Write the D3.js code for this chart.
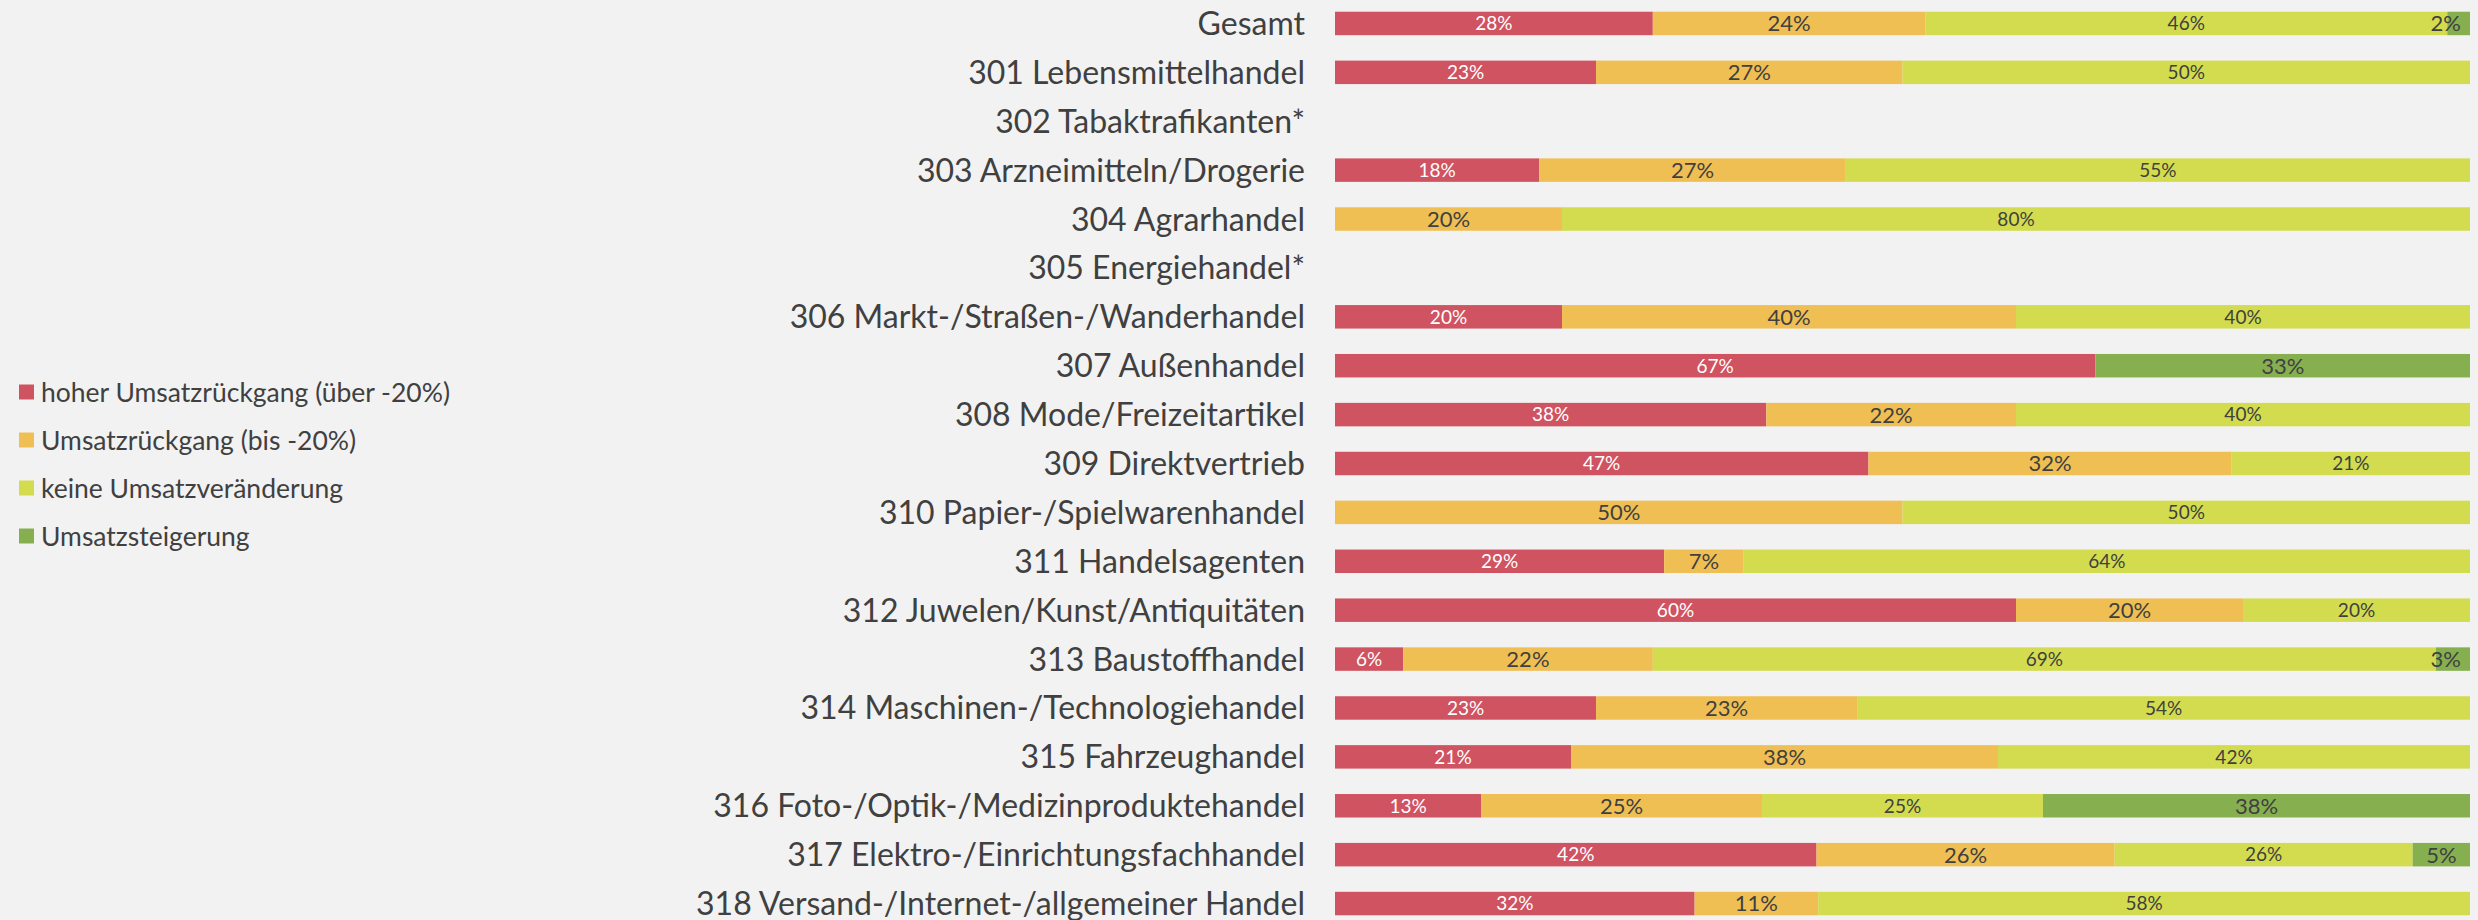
<!DOCTYPE html>
<html lang="en">
<meta charset="utf-8">
<style>
  body { margin: 0; background: #f2f2f2; }
  text { font-family: Lato, "Open Sans", sans-serif; }
</style>
<body>
<div id="my_dataviz"></div>

<script src="https://d3js.org/d3.v7.min.js"></script>

<script type="text/javascript">

// categories (top to bottom)
var branches = ["Gesamt", "301 Lebensmittelhandel", "302 Tabaktrafikanten*",
  "303 Arzneimitteln/Drogerie", "304 Agrarhandel", "305 Energiehandel*",
  "306 Markt-/Straßen-/Wanderhandel", "307 Außenhandel", "308 Mode/Freizeitartikel",
  "309 Direktvertrieb", "310 Papier-/Spielwarenhandel", "311 Handelsagenten",
  "312 Juwelen/Kunst/Antiquitäten", "313 Baustoffhandel", "314 Maschinen-/Technologiehandel",
  "315 Fahrzeughandel", "316 Foto-/Optik-/Medizinproduktehandel",
  "317 Elektro-/Einrichtungsfachhandel", "318 Versand-/Internet-/allgemeiner Handel"]

var seriesNames = ["hoher Umsatzrückgang (über -20%)", "Umsatzrückgang (bis -20%)",
  "keine Umsatzveränderung", "Umsatzsteigerung"]

// shares in percent, one array per series (0 = no answer, null = no data)
var hoherRueckgang = [28, 23, null, 18, 0, null, 20, 67, 38, 47, 0, 29, 60, 6, 23, 21, 13, 42, 32]
var rueckgang      = [24, 27, null, 27, 20, null, 40, 0, 22, 32, 50, 7, 20, 22, 23, 38, 25, 26, 11]
var keineAenderung = [46, 50, null, 55, 80, null, 40, 0, 40, 21, 50, 64, 20, 69, 54, 42, 25, 26, 58]
var steigerung     = [2, 0, null, 0, 0, null, 0, 33, 0, 0, 0, 0, 0, 3, 0, 0, 38, 5, 0]

var colors = ["#cf5361", "#f0bf53", "#d3dc4e", "#86af50"]
var labelColors = ["#ffffff", "#404040", "#404040", "#404040"]
var labelSizes = [19, 22, 19, 22]

var width = 2478, height = 920

var svg = d3.select("#my_dataviz")
  .append("svg")
    .attr("width", width)
    .attr("height", height)

// build rows for the stack
var rows = branches.map(function(b, i) {
  return {branch: b, s0: hoherRueckgang[i] || 0, s1: rueckgang[i] || 0,
          s2: keineAenderung[i] || 0, s3: steigerung[i] || 0,
          empty: hoherRueckgang[i] === null}
})
var keys = ["s0", "s1", "s2", "s3"]

var stacked = d3.stack().keys(keys).offset(d3.stackOffsetExpand)(rows)

var x = d3.scaleLinear()
  .domain([0, 1])
  .range([1335, 2470])

var y = d3.scaleBand()
  .domain(branches)
  .range([-1, 928])
  .paddingInner(0.52)
  .paddingOuter(0.26)

// category labels
svg.append("g")
  .selectAll("text")
  .data(branches)
  .enter()
  .append("text")
    .attr("x", 1305)
    .attr("y", function(d) { return y(d) + y.bandwidth() / 2 })
    .attr("dy", "0.36em")
    .attr("text-anchor", "end")
    .style("font-size", "32px")
    .style("fill", "#404040")
    .text(function(d) { return d })

// bars
var layer = svg.append("g")
  .selectAll("g")
  .data(stacked)
  .enter()
  .append("g")

layer.selectAll("rect")
  .data(function(d) { return d.filter(function(p) { return !p.data.empty && p[1] > p[0] }) })
  .enter()
  .append("rect")
    .attr("x", function(d) { return x(d[0]) })
    .attr("y", function(d) { return y(d.data.branch) })
    .attr("width", function(d) { return x(d[1]) - x(d[0]) })
    .attr("height", y.bandwidth())
    .style("fill", function(d) { return colors[keys.indexOf(this.parentNode.__data__.key)] })

// labels inside the bars (kept inside the right end of the bar)
layer.each(function(s, k) {
  d3.select(this).selectAll("text")
    .data(s.filter(function(p) { return !p.data.empty && p[1] > p[0] }))
    .enter()
    .append("text")
      .attr("y", function(d) { return y(d.data.branch) + y.bandwidth() / 2 })
      .attr("dy", "0.36em")
      .attr("text-anchor", "middle")
      .style("font-size", labelSizes[k] + "px")
      .style("fill", labelColors[k])
      .text(function(d) { return d.data[s.key] + "%" })
      .attr("x", function(d) {
        var cx = (x(d[0]) + x(d[1])) / 2
        var half = this.getComputedTextLength() / 2
        return Math.min(cx, x(1) - 9 - half)
      })
})

// legend
var legend = svg.append("g")
  .selectAll("g")
  .data(seriesNames)
  .enter()
  .append("g")
    .attr("transform", function(d, i) { return "translate(19," + (392 + i * 48) + ")" })

legend.append("rect")
  .attr("y", -7.5)
  .attr("width", 15)
  .attr("height", 15)
  .style("fill", function(d, i) { return colors[i] })

legend.append("text")
  .attr("x", 22)
  .attr("dy", "0.36em")
  .style("font-size", "26.5px")
  .style("fill", "#404040")
  .text(function(d) { return d })

</script>
</body>
</html>
